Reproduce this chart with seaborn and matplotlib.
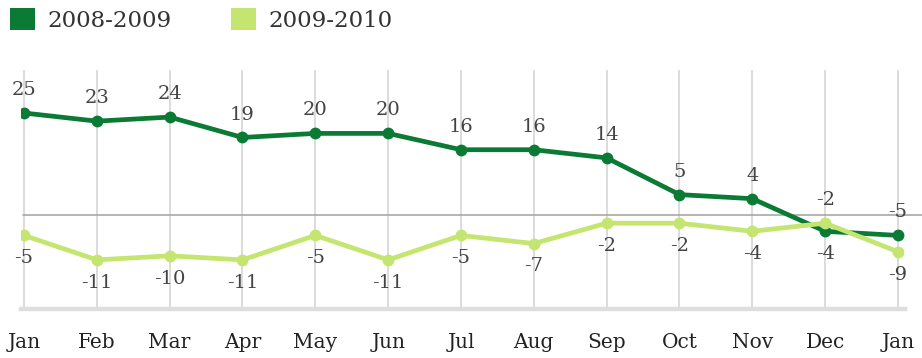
import matplotlib
matplotlib.use("Agg")
import matplotlib.pyplot as plt
import seaborn as sns
import pandas as pd
from matplotlib.patches import Patch

months = ["Jan", "Feb", "Mar", "Apr", "May", "Jun", "Jul", "Aug", "Sep", "Oct", "Nov", "Dec", "Jan"]
series_names = ["2008-2009", "2009-2010"]
vals_0809 = [25, 23, 24, 19, 20, 20, 16, 16, 14, 5, 4, -4, -5]
vals_0910 = [-5, -11, -10, -11, -5, -11, -5, -7, -2, -2, -4, -2, -9]
colors = ["#0a7a34", "#c4e56f"]

sns.set_theme(style="white")
plt.rcParams["font.family"] = ["DejaVu Serif"]

rows = []
for i, m in enumerate(months):
    rows.append({"idx": i, "value": vals_0809[i], "series": series_names[0]})
    rows.append({"idx": i, "value": vals_0910[i], "series": series_names[1]})
df = pd.DataFrame(rows)

W, H = 922, 358
fig = plt.figure(figsize=(W / 100, H / 100), dpi=100)
ax = fig.add_axes([21 / W, 1 - 309 / H, (905 - 21) / W, (309 - 70) / H])

step = 72.83
x0 = 24
ax.set_xlim((21 - x0) / step, (905 - x0) / step)
ppu = 4.08
ax.set_ylim((215 - 309) / ppu, (215 - 70) / ppu)

# vertical grid lines
for i in range(len(months)):
    ax.axvline(i, color="#d6d6d6", lw=1.2, zorder=0)
# zero line
ax.plot([-0.01, 12.35], [0, 0], color="#a8a8a8", lw=1.2, zorder=1, clip_on=False)

sns.lineplot(data=df, x="idx", y="value", hue="series", palette=colors,
             marker="o", markersize=8.5, markeredgewidth=0, linewidth=3.4,
             legend=False, ax=ax, zorder=3)

for i in range(len(months)):
    a, b = vals_0809[i], vals_0910[i]
    ya, yb = (16.5, -16.5) if a >= b else (-16.5, 16.5)
    ax.annotate(str(a), (i, a), xytext=(0, ya), textcoords="offset points",
                ha="center", va="center", fontsize=14, color="#444444")
    ax.annotate(str(b), (i, b), xytext=(0, yb), textcoords="offset points",
                ha="center", va="center", fontsize=14, color="#444444")

for s in ["top", "right", "left"]:
    ax.spines[s].set_visible(False)
ax.spines["bottom"].set_color("#dedede")
ax.spines["bottom"].set_linewidth(3.2)
ax.set_yticks([])
ax.set_xticks(range(len(months)))
ax.set_xticklabels(months, fontsize=14.5, color="#222222")
ax.tick_params(axis="x", length=0, pad=17)
ax.set_xlabel("")
ax.set_ylabel("")

handles = [Patch(facecolor=c, edgecolor="none") for c in colors]
fig.legend(handles, series_names, loc="upper left", bbox_to_anchor=(-0.012, 1.035),
           ncol=2, frameon=False, fontsize=16.5, handlelength=1.1, handleheight=1.1,
           columnspacing=2.6, handletextpad=0.55, labelcolor="#333333")

fig.savefig("out.png", dpi=100)
